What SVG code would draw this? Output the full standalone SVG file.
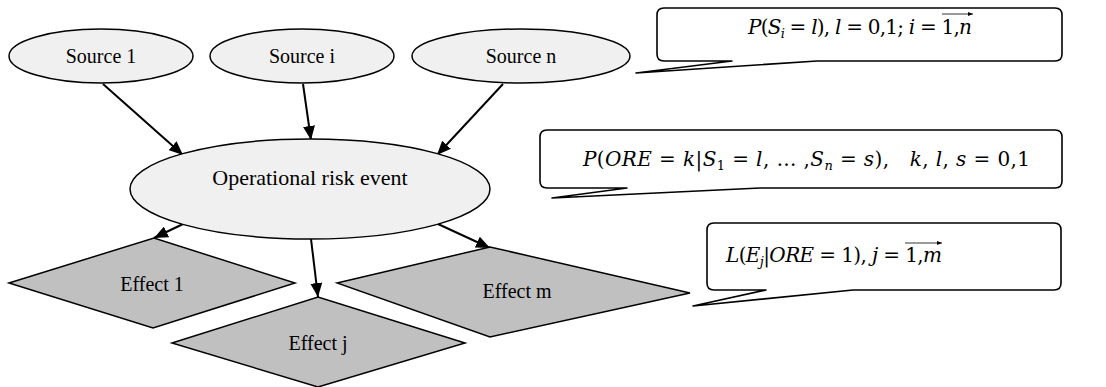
<svg xmlns="http://www.w3.org/2000/svg" width="1106" height="387" viewBox="0 0 1106 387">
<style>
.src{fill:#f0f0f0;stroke:#000;stroke-width:1.5}
.eff{fill:#c0c0c0;stroke:#000;stroke-width:1.5}
.lbl{font-family:"Liberation Serif","Times New Roman",serif;font-size:20px;fill:#000;text-anchor:middle}
.big{font-size:22px}
.edge{stroke:#000;stroke-width:2;fill:none;marker-end:url(#ah)}
.call{fill:#fff;stroke:#000;stroke-width:1.6;stroke-linejoin:round}
.math{font-family:"DejaVu Serif","Liberation Serif",serif;font-size:20px;fill:#000}
.i{font-style:italic}
.sub{font-size:13px}
.ov{stroke:#000;stroke-width:0.8;marker-end:url(#sa)}
</style>
<defs>
<marker id="ah" markerUnits="userSpaceOnUse" markerWidth="14" markerHeight="12" refX="14" refY="6" orient="auto">
<path d="M0,0 L14,6 L0,12 z" fill="#000"/>
</marker>
<marker id="sa" markerUnits="userSpaceOnUse" markerWidth="5" markerHeight="4" refX="5" refY="2" orient="auto">
<path d="M0,0 L5,2 L0,4 z" fill="#000"/>
</marker>
</defs>
<rect width="1106" height="387" fill="#fff"/>
<g id="connectors">
<line class="edge" x1="103" y1="84" x2="183" y2="155"/>
<line class="edge" x1="303" y1="84" x2="311" y2="140"/>
<line class="edge" x1="503" y1="84" x2="437" y2="155"/>
<line class="edge" x1="183" y1="224" x2="154" y2="238"/>
<line class="edge" x1="311" y1="239" x2="318" y2="297"/>
<line class="edge" x1="438" y1="224" x2="490" y2="248"/>
</g>
<g id="source1"><ellipse class="src" cx="101" cy="56" rx="92" ry="27"/><text class="lbl" x="101" y="63">Source 1</text></g>
<g id="sourcei"><ellipse class="src" cx="302" cy="56" rx="92" ry="27"/><text class="lbl" x="302" y="63">Source i</text></g>
<g id="sourcen"><ellipse class="src" cx="521" cy="56" rx="109" ry="27"/><text class="lbl" x="521" y="63">Source n</text></g>
<g id="ore"><ellipse class="src" cx="310" cy="189" rx="180" ry="50"/><text class="lbl big" x="310" y="185">Operational risk event</text></g>
<g id="effect1"><polygon class="eff" points="9,283 154,238 295,283 153,328"/><text class="lbl" x="152" y="291">Effect 1</text></g>
<g id="effectj"><polygon class="eff" points="172,343 318,297 465,343 318,387"/><text class="lbl" x="318" y="350">Effect j</text></g>
<g id="effectm"><polygon class="eff" points="337,283 490,247 690,293 490,337"/><text class="lbl" x="517" y="298">Effect m</text></g>
<g id="callout1">
<path class="call" d="M664,8 H1055 Q1062,8 1062,15 V54 Q1062,61 1055,61 H817 L636,73 L732,61 H664 Q657,61 657,54 V15 Q657,8 664,8 Z"/>
<text class="math" x="748" y="34" textLength="224" lengthAdjust="spacing" xml:space="preserve"><tspan class="i">P</tspan>(<tspan class="i">S</tspan><tspan class="i sub" dy="4">i</tspan><tspan dy="-4"> = </tspan><tspan class="i">l</tspan>), <tspan class="i">l</tspan> = 0,1; <tspan class="i">i</tspan> = 1,<tspan class="i">n</tspan></text>
<line class="ov" x1="942" y1="14" x2="973" y2="14"/>
</g>
<g id="callout2">
<path class="call" d="M547,130 H1055 Q1062,130 1062,137 V181 Q1062,188 1055,188 H760 L552,198 L627,188 H547 Q540,188 540,181 V137 Q540,130 547,130 Z"/>
<text class="math" x="583" y="166" textLength="447" lengthAdjust="spacing" xml:space="preserve"><tspan class="i">P</tspan>(<tspan class="i">ORE</tspan> = <tspan class="i">k</tspan>|<tspan class="i">S</tspan><tspan class="sub" dy="4">1</tspan><tspan dy="-4"> = </tspan><tspan class="i">l</tspan>, … ,<tspan class="i">S</tspan><tspan class="i sub" dy="4">n</tspan><tspan dy="-4"> = </tspan><tspan class="i">s</tspan>),   <tspan class="i">k</tspan>, <tspan class="i">l</tspan>, <tspan class="i">s</tspan> = 0,1</text>
</g>
<g id="callout3">
<path class="call" d="M714,223 H1054 Q1061,223 1061,230 V283 Q1061,290 1054,290 H853 L693,306 L766,290 H714 Q707,290 707,283 V230 Q707,223 714,223 Z"/>
<text class="math" x="726" y="262" textLength="216" lengthAdjust="spacing" xml:space="preserve"><tspan class="i">L</tspan>(<tspan class="i">E</tspan><tspan class="i sub" dy="4">j</tspan><tspan dy="-4">|</tspan><tspan class="i">ORE</tspan> = 1), <tspan class="i">j</tspan> = 1,<tspan class="i">m</tspan></text>
<line class="ov" x1="905" y1="243" x2="942" y2="243"/>
</g>
</svg>
